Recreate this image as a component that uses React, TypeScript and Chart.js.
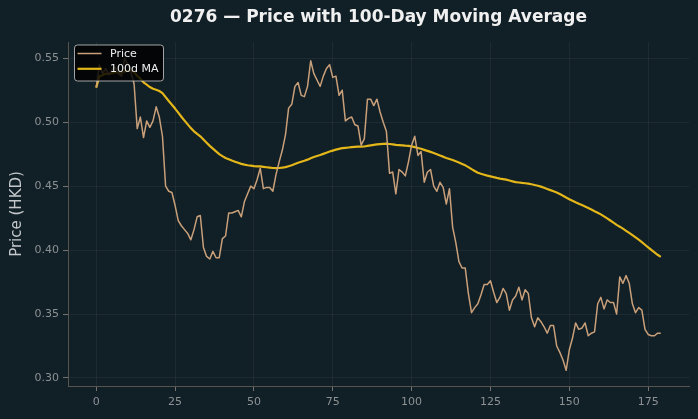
import React, { useEffect, useRef } from "react";
import { Chart, registerables } from "chart.js";

Chart.register(...registerables);

const TITLE = "0276 — Price with 100-Day Moving Average";
const Y_LABEL = "Price (HKD)";
const SERIES_NAMES = ["Price", "100d MA"];
const MA_WINDOW = 100;

const price = [
  0.527, 0.545, 0.538, 0.542, 0.537, 0.541, 0.543, 0.538, 0.536, 0.55,
  0.545, 0.539, 0.53, 0.495, 0.504, 0.488, 0.501, 0.496, 0.501, 0.512,
  0.504, 0.489, 0.45, 0.446, 0.445, 0.435, 0.423, 0.419, 0.416, 0.413,
  0.408, 0.416, 0.426, 0.427, 0.402, 0.395, 0.393, 0.399, 0.394, 0.394,
  0.409, 0.411, 0.429, 0.429, 0.43, 0.431, 0.426, 0.438, 0.444, 0.45,
  0.448, 0.455, 0.464, 0.448, 0.449, 0.449, 0.446, 0.459, 0.469, 0.478,
  0.49, 0.511, 0.514, 0.528, 0.531, 0.521, 0.52, 0.528, 0.548, 0.538,
  0.533, 0.528, 0.536, 0.542, 0.545, 0.535, 0.536, 0.521, 0.525, 0.501,
  0.503, 0.504, 0.498, 0.497, 0.482, 0.487, 0.518, 0.518, 0.513, 0.518,
  0.508, 0.5, 0.493, 0.46, 0.461, 0.444, 0.463, 0.461, 0.458, 0.469,
  0.482, 0.489, 0.474, 0.477, 0.453, 0.461, 0.463, 0.45, 0.446, 0.453,
  0.449, 0.436, 0.448, 0.418, 0.406, 0.391, 0.386, 0.386, 0.366, 0.351,
  0.355, 0.358, 0.365, 0.373, 0.373, 0.376, 0.367, 0.359, 0.363, 0.37,
  0.366, 0.353, 0.361, 0.364, 0.371, 0.361, 0.369, 0.366, 0.347, 0.34,
  0.347, 0.344, 0.34, 0.335, 0.341, 0.341, 0.325, 0.32, 0.314, 0.306,
  0.322, 0.331, 0.343, 0.338, 0.339, 0.343, 0.333, 0.335, 0.336, 0.358,
  0.363, 0.354, 0.361, 0.359, 0.359, 0.35, 0.379, 0.374, 0.38, 0.374,
  0.358, 0.351, 0.355, 0.353, 0.338, 0.334, 0.333, 0.333, 0.335, 0.335,
];

const xTicks = [0, 25, 50, 75, 100, 125, 150, 175];
const yTicks = [0.3, 0.35, 0.4, 0.45, 0.5, 0.55];

// rolling mean (min_periods = 1), derived from the price series
const movingAvg = price.map((_, i) => {
  const start = Math.max(0, i - MA_WINDOW + 1);
  const win = price.slice(start, i + 1);
  return win.reduce((a, b) => a + b, 0) / win.length;
});

const BG = "#111f26";
const PRICE_COLOR = "#c9a07a";
const MA_COLOR = "#e3b61a";
const FONT = '"DejaVu Sans", sans-serif';

const titlePlugin = {
  id: "customTitle",
  afterDraw(chart: any) {
    const { ctx, chartArea } = chart;
    ctx.save();
    ctx.font = `bold 17px ${FONT}`;
    ctx.fillStyle = "#f0f0f0";
    ctx.textAlign = "center";
    ctx.textBaseline = "middle";
    ctx.fillText(TITLE, (chartArea.left + chartArea.right) / 2, 18);
    ctx.restore();
  },
};

const legendPlugin = {
  id: "customLegend",
  afterDatasetsDraw(chart: any) {
    const { ctx, chartArea } = chart;
    const x = chartArea.left + 6;
    const y = chartArea.top + 2.5;
    const w = 89;
    const h = 36;
    ctx.save();
    ctx.beginPath();
    ctx.roundRect(x + 0.5, y + 0.5, w, h, 3);
    ctx.fillStyle = "rgba(0,0,0,0.82)";
    ctx.fill();
    ctx.strokeStyle = "rgba(200,200,200,0.8)";
    ctx.lineWidth = 1;
    ctx.stroke();
    const colors = [PRICE_COLOR, MA_COLOR];
    const widths = [1.5, 2.2];
    ctx.font = `11px ${FONT}`;
    ctx.textBaseline = "middle";
    ctx.textAlign = "left";
    SERIES_NAMES.forEach((name, k) => {
      const ly = y + 9 + k * 15.3;
      ctx.beginPath();
      ctx.moveTo(x + 3.5, ly);
      ctx.lineTo(x + 27.5, ly);
      ctx.strokeStyle = colors[k];
      ctx.lineWidth = widths[k];
      ctx.stroke();
      ctx.fillStyle = "#eeeeee";
      ctx.fillText(name, x + 36, ly + 0.5);
    });
    ctx.restore();
  },
};

export default function App() {
  const ref = useRef<HTMLCanvasElement | null>(null);

  useEffect(() => {
    const canvas = ref.current;
    if (!canvas) return;
    const chart = new Chart(canvas, {
      type: "line",
      data: {
        datasets: [
          {
            label: SERIES_NAMES[0],
            data: price.map((v, i) => ({ x: i, y: v })),
            borderColor: PRICE_COLOR,
            borderWidth: 1.5,
            pointRadius: 0,
            tension: 0,
            borderJoinStyle: "round",
          },
          {
            label: SERIES_NAMES[1],
            data: movingAvg.map((v, i) => ({ x: i, y: v })),
            borderColor: MA_COLOR,
            borderWidth: 2.2,
            pointRadius: 0,
            tension: 0,
            borderJoinStyle: "round",
          },
        ],
      },
      options: {
        animation: false,
        responsive: false,
        devicePixelRatio: 1,
        events: [],
        layout: { padding: { top: 42, right: 9, left: 0, bottom: 0 } },
        plugins: {
          legend: { display: false },
          title: { display: false },
          tooltip: { enabled: false },
        },
        scales: {
          x: {
            type: "linear",
            min: -8.95,
            max: 187.95,
            afterFit: (s: any) => {
              s.height = 33;
            },
            afterBuildTicks: (s: any) => {
              s.ticks = xTicks.map((v) => ({ value: v }));
            },
            ticks: {
              color: "#8c9194",
              font: { family: FONT, size: 11 },
              padding: 5,
              maxRotation: 0,
              callback: (v: any) => String(v),
            },
            grid: {
              color: "rgba(255,255,255,0.05)",
              tickColor: "#74716e",
              tickLength: 5,
              lineWidth: 1,
            },
            border: { display: true, color: "#57534f", width: 1 },
          },
          y: {
            type: "linear",
            min: 0.2937,
            max: 0.5627,
            afterFit: (s: any) => {
              s.width = 68;
            },
            afterBuildTicks: (s: any) => {
              s.ticks = yTicks.map((v) => ({ value: v }));
            },
            ticks: {
              color: "#8c9194",
              font: { family: FONT, size: 11 },
              padding: 4,
              callback: (v: any) => Number(v).toFixed(2),
            },
            grid: {
              color: "rgba(255,255,255,0.05)",
              tickColor: "#74716e",
              tickLength: 5,
              lineWidth: 1,
            },
            border: { display: true, color: "#57534f", width: 1 },
            title: {
              display: true,
              text: Y_LABEL,
              color: "#c4c8ca",
              font: { family: FONT, size: 15 },
              padding: { top: 8, bottom: 0 },
            },
          },
        },
      },
      plugins: [titlePlugin, legendPlugin],
    });
    return () => chart.destroy();
  }, []);

  return (
    <div
      style={{
        position: "fixed",
        left: 0,
        top: 0,
        width: 698,
        height: 419,
        background: BG,
      }}
    >
      <canvas ref={ref} width={698} height={419} style={{ display: "block" }} />
    </div>
  );
}
